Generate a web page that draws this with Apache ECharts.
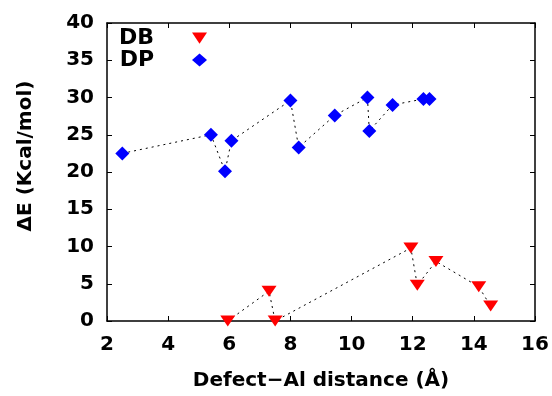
<!DOCTYPE html>
<html>
<head>
<meta charset="utf-8">
<script src="https://cdn.jsdelivr.net/npm/echarts@6/dist/echarts.min.js"></script>
<style>html,body{margin:0;padding:0;background:#fff}#c{width:552px;height:396px}</style>
</head>
<body>
<div id="c"></div>
<script>
// DB series (red down triangles)
const dbX = [5.95, 7.3, 7.5, 11.94, 12.15, 12.76, 14.16, 14.55];
const dbY = [0.0, 4.0, 0.0, 9.8, 4.8, 8.0, 4.6, 2.0];
// DP series (blue diamonds)
const dpX = [2.5, 5.4, 5.86, 6.07, 8.0, 8.27, 9.45, 10.52, 10.58, 11.34, 12.35, 12.55];
const dpY = [22.5, 25.0, 20.1, 24.2, 29.6, 23.3, 27.6, 30.0, 25.5, 29.0, 29.8, 29.8];
const xTicks = [2, 4, 6, 8, 10, 12, 14, 16];
const yTicks = [0, 5, 10, 15, 20, 25, 30, 35, 40];

const FONT = '"DejaVu Sans", Verdana, sans-serif';
const triDown = 'path://M0,0L20,0L10,15Z';
const pairs = (xs, ys) => xs.map((x, i) => [x, ys[i]]);

const chart = echarts.init(document.getElementById('c'), null, {renderer: 'canvas'});
const axisCommon = {
  axisLine: {show: true, onZero: false, lineStyle: {color: '#000', width: 1.5}},
  axisTick: {show: true, inside: true, length: 5, lineStyle: {color: '#000', width: 1}},
  splitLine: {show: false}
};
chart.setOption({
  animation: false,
  backgroundColor: '#fff',
  grid: {left: 107, right: 17, top: 23, bottom: 72, containLabel: false},
  legend: {
    orient: 'vertical', left: 119, top: 27, padding: 0, itemGap: 0, align: 'right',
    itemWidth: 15, itemHeight: 13,
    textStyle: {fontFamily: FONT, fontWeight: 'bold', fontSize: 22, color: '#000', lineHeight: 22, padding: [0, 33, 0, 0]},
    data: [{name: 'DB', icon: triDown}, {name: 'DP', icon: 'diamond'}]
  },
  xAxis: [
    Object.assign({}, axisCommon, {
      type: 'value', position: 'bottom', min: xTicks[0], max: xTicks[xTicks.length - 1], interval: 2,
      axisLabel: {fontFamily: FONT, fontWeight: 'bold', fontSize: 20, color: '#000', margin: 14},
      name: 'Defect\u2212Al distance (\u00C5)', nameLocation: 'middle', nameGap: 60,
      nameTextStyle: {fontFamily: FONT, fontWeight: 'bold', fontSize: 20, color: '#000', verticalAlign: 'middle'}
    }),
    Object.assign({}, axisCommon, {
      type: 'value', position: 'top', min: xTicks[0], max: xTicks[xTicks.length - 1], interval: 2,
      axisLabel: {show: false}
    })
  ],
  yAxis: [
    Object.assign({}, axisCommon, {
      type: 'value', position: 'left', min: yTicks[0], max: yTicks[yTicks.length - 1], interval: 5,
      axisLabel: {fontFamily: FONT, fontWeight: 'bold', fontSize: 20, color: '#000', margin: 13},
      name: '\u0394E (Kcal/mol)', nameLocation: 'middle', nameGap: 81, nameRotate: 90,
      nameTextStyle: {fontFamily: FONT, fontWeight: 'bold', fontSize: 20, color: '#000', verticalAlign: 'middle', padding: [0, 0, 0, 32]}
    }),
    Object.assign({}, axisCommon, {
      type: 'value', position: 'right', min: yTicks[0], max: yTicks[yTicks.length - 1], interval: 5,
      axisLabel: {show: false}
    })
  ],
  series: [
    {
      name: 'DB', type: 'line', data: pairs(dbX, dbY),
      symbol: triDown, symbolSize: [15, 11], showAllSymbol: true,
      itemStyle: {color: '#ff0000'},
      lineStyle: {color: '#000', width: 1, type: [2, 4]},
      z: 3
    },
    {
      name: 'DP', type: 'line', data: pairs(dpX, dpY),
      symbol: 'diamond', symbolSize: [14, 14], showAllSymbol: true,
      itemStyle: {color: '#0000ff'},
      lineStyle: {color: '#000', width: 1, type: [2, 4]},
      z: 3
    }
  ]
});
</script>
</body>
</html>
